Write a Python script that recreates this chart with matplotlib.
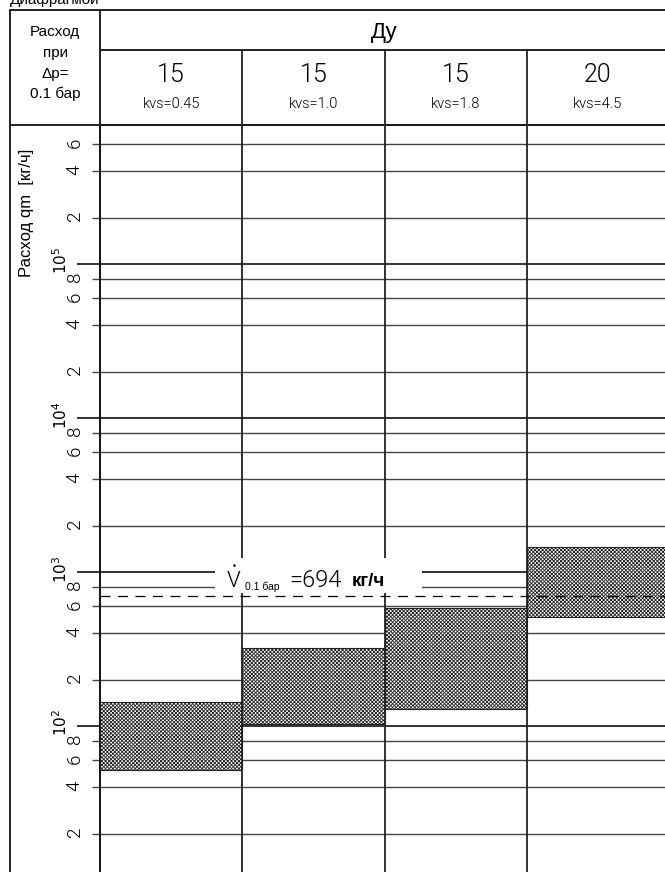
import numpy as np
import matplotlib.pyplot as plt
from matplotlib import transforms
from matplotlib.lines import Line2D
from matplotlib.patches import Rectangle

# data
sizes = ['15', '15', '15', '20']
kvs_labels = ['kvs=0.45', 'kvs=1.0', 'kvs=1.8', 'kvs=4.5']
q_low = [52, 103, 129, 510]        # kg/h, bottom of each range
q_high = [144, 320, 585, 1450]     # kg/h, top of each range
q_nominal = 694                    # kg/h, dashed line
decades = [2, 3, 4, 5]
minor_mult = [2, 4, 6, 8]
minor_range = (20, 6e5)

W, H, DPI = 665, 872, 100
plt.rcParams['hatch.linewidth'] = 0.6
thin = dict(family=['Roboto', 'DejaVu Sans'], weight=300)
arial = dict(family=['Liberation Sans', 'DejaVu Sans'])

fig = plt.figure(figsize=(W / DPI, H / DPI), dpi=DPI)


def fx(px):
    return px / W


def fy(py):
    return 1 - py / H


col_w = 142.3   # pixel width of one column
dec_px = 154    # pixel height of one decade
ax = fig.add_axes([fx(100), 0, fx(665) - fx(100), fy(125)])
ax.set_yscale('log')
ax.set_xlim(0, 565 / col_w)
ax.set_ylim(10 ** (2 - 146 / dec_px), 10 ** (2 + 601 / dec_px))

# ticks / grid
majors = [10.0 ** k for k in decades]
minors = [m * 10.0 ** k for k in [1] + decades for m in minor_mult]
minors = [v for v in minors if minor_range[0] <= v <= minor_range[1]]
ax.set_yticks(majors, [f'$10^{k}$' for k in decades])
ax.set_yticks(minors, [str(int(round(v / 10 ** np.floor(np.log10(v))))) for v in minors],
              minor=True)
ax.tick_params(axis='y', which='major', length=16.5, width=1.2, color='#111',
               pad=5, labelrotation=90, labelsize=11)
ax.tick_params(axis='y', which='minor', length=5.8, width=1.0, color='#444',
               pad=6, labelrotation=90, labelsize=13.5)
for lab in ax.get_yticklabels(minor=True):
    lab.set(**thin)
up = transforms.ScaledTranslation(0, 9 / DPI, fig.dpi_scale_trans)
for lab in ax.get_yticklabels():
    lab.set_transform(lab.get_transform() + up)
ax.set_xticks([])
ax.yaxis.grid(True, which='major', color='#111', lw=1.2)
ax.yaxis.grid(True, which='minor', color='#444', lw=1.0)
ax.set_axisbelow(True)
for s in ['right', 'bottom']:
    ax.spines[s].set_visible(False)
for s in ['left', 'top']:
    ax.spines[s].set_linewidth(1.4)
    ax.spines[s].set_color('#111')

# ranges
x = np.arange(len(q_low)) + 0.5
ax.bar(x, np.array(q_high) - np.array(q_low), bottom=q_low, width=1.0,
       color='white', edgecolor='#222', hatch='x' * 9, lw=0.8, zorder=3)

for c in range(1, len(sizes)):
    ax.axvline(c, color='#222', lw=1.3, zorder=4)

ax.axhline(q_nominal, color='black', lw=0.9, ls=(0, (8, 6)), zorder=5)

# table frame
tr = transforms.blended_transform_factory(ax.transData, fig.transFigure)
frame = dict(color='#222', lw=1.4)
fig.add_artist(Line2D([fx(10), 1], [fy(10), fy(10)], **frame))
fig.add_artist(Line2D([fx(100), 1], [fy(50), fy(50)], **frame))
fig.add_artist(Line2D([fx(10), fx(100)], [fy(125), fy(125)], **frame))
fig.add_artist(Line2D([fx(10), fx(10)], [fy(10), 0], **frame))
fig.add_artist(Line2D([fx(100), fx(100)], [fy(10), fy(125)], **frame))
for c in range(1, len(sizes)):
    fig.add_artist(Line2D([c, c], [fy(50), fy(125)], transform=tr,
                          color='#222', lw=1.3))

# header texts
fig.text(fx(10), fy(4), 'Диафрагмой', fontsize=11, va='baseline', **arial)
for txt, base in zip(['Расход', 'при', 'Δp=', '0.1 бар'], [36, 57, 78, 98]):
    fig.text(fx(55), fy(base), txt, fontsize=11, ha='center', va='baseline', **arial)
fig.text(len(sizes) / 2, fy(38), 'Ду', transform=tr, fontsize=16,
         ha='center', va='baseline', **arial)
for i, (s, k) in enumerate(zip(sizes, kvs_labels)):
    fig.text(i + 0.5, fy(82), s, transform=tr, fontsize=18, ha='center',
             va='baseline', **thin)
    fig.text(i + 0.5, fy(108), k, transform=tr, fontsize=10.5, ha='center',
             va='baseline', **thin)

fig.text(fx(27), fy(213), 'Расход qm  [кг/ч]', rotation=90, fontsize=12,
         ha='center', va='center', **arial)

# annotation of the nominal flow
fig.add_artist(Rectangle((fx(215), fy(593)), fx(422) - fx(215), 35 / H,
                         transform=fig.transFigure, fc='white', ec='none', zorder=1))
fig.text(fx(227), fy(587), 'V', fontsize=16, va='baseline', zorder=2, **thin)
fig.text(fx(234), fy(569), '•', fontsize=6, ha='center', va='baseline', zorder=2)
fig.text(fx(245), fy(590), '0.1 бар', fontsize=7.5, va='baseline', zorder=2, **arial)
fig.text(fx(289), fy(587), f'={q_nominal}', fontsize=17, va='baseline', zorder=2, **thin)
fig.text(fx(352), fy(586), 'кг/ч', fontsize=13.5, weight='bold', va='baseline',
         zorder=2, **arial)

fig.savefig('out.png', dpi=DPI)
